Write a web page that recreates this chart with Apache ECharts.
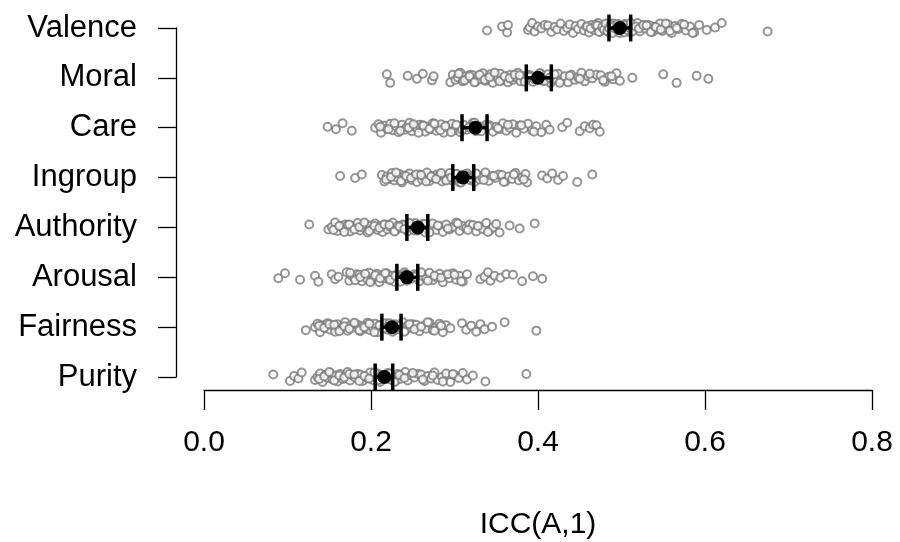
<!DOCTYPE html>
<html>
<head>
<meta charset="utf-8">
<script src="https://cdn.jsdelivr.net/npm/echarts@6/dist/echarts.min.js"></script>
<style>html,body{margin:0;padding:0;background:#fff}#c{width:900px;height:542px}</style>
</head>
<body>
<div id="c"></div>
<script>
// categories from bottom (1) to top (8)
const categories = ['Purity','Fairness','Arousal','Authority','Ingroup','Care','Moral','Valence'];

const valence = [0.339,0.357,0.363,0.364,0.388,0.390,0.393,0.396,0.400,0.404,0.408,0.412,0.416,0.420,0.423,0.427,0.431,0.435,0.438,0.442,0.445,0.448,0.452,0.455,0.458,0.461,0.464,0.467,0.470,0.472,0.474,0.476,0.478,0.480,0.482,0.484,0.486,0.488,0.490,0.492,0.494,0.496,0.498,0.500,0.502,0.504,0.506,0.508,0.510,0.512,0.514,0.516,0.519,0.522,0.525,0.528,0.531,0.534,0.537,0.540,0.543,0.546,0.549,0.552,0.556,0.560,0.564,0.568,0.572,0.577,0.582,0.587,0.593,0.602,0.612,0.620,0.675,
  0.459,0.463,0.469,0.471,0.473,0.477,0.479,0.481,0.483,0.485,0.487,0.489,0.491,0.493,0.495,0.499,0.501,0.503,0.505,0.507,0.509,0.511,0.513,0.517,0.521,0.526,0.530,0.535,0.541,0.547,0.553,0.558,0.566,0.575,0.585];
const moral = [0.219,0.223,0.244,0.255,0.262,0.273,0.275,0.295,0.298,0.301,0.304,0.307,0.310,0.313,0.316,0.319,0.322,0.325,0.328,0.331,0.334,0.337,0.340,0.343,0.346,0.349,0.352,0.355,0.358,0.361,0.364,0.367,0.370,0.373,0.376,0.379,0.382,0.385,0.388,0.391,0.394,0.397,0.400,0.403,0.406,0.409,0.412,0.415,0.418,0.421,0.424,0.428,0.432,0.436,0.440,0.444,0.448,0.452,0.456,0.460,0.465,0.470,0.475,0.480,0.485,0.490,0.494,0.498,0.513,0.550,0.566,0.590,0.604,
  0.305,0.312,0.318,0.324,0.330,0.336,0.342,0.348,0.354,0.360,0.366,0.372,0.378,0.384,0.390,0.396,0.402,0.408,0.414,0.420,0.426,0.438,0.450,0.462,0.478,0.488];
const care = [0.148,0.158,0.166,0.177,0.205,0.209,0.212,0.216,0.219,0.223,0.226,0.230,0.233,0.237,0.240,0.243,0.246,0.249,0.252,0.255,0.258,0.262,0.265,0.268,0.271,0.274,0.278,0.281,0.284,0.287,0.290,0.294,0.297,0.300,0.303,0.307,0.311,0.315,0.319,0.322,0.326,0.330,0.334,0.338,0.342,0.346,0.350,0.354,0.358,0.362,0.366,0.370,0.374,0.378,0.383,0.388,0.393,0.398,0.404,0.410,0.414,0.429,0.435,0.450,0.456,0.462,0.466,0.470,0.474,
  0.211,0.221,0.228,0.235,0.245,0.251,0.257,0.263,0.270,0.276,0.283,0.289,0.296,0.302,0.309,0.317,0.324,0.332,0.340,0.352,0.364,0.380,0.395];
const ingroup = [0.163,0.181,0.189,0.213,0.216,0.219,0.222,0.225,0.228,0.231,0.234,0.237,0.240,0.243,0.246,0.249,0.252,0.255,0.258,0.261,0.264,0.267,0.270,0.273,0.276,0.279,0.282,0.285,0.288,0.291,0.294,0.297,0.300,0.303,0.306,0.309,0.312,0.315,0.318,0.321,0.324,0.327,0.330,0.333,0.337,0.341,0.345,0.349,0.353,0.357,0.361,0.365,0.369,0.373,0.377,0.381,0.385,0.387,0.405,0.411,0.417,0.424,0.430,0.447,0.465,
  0.218,0.224,0.230,0.236,0.242,0.248,0.254,0.260,0.266,0.272,0.278,0.284,0.290,0.296,0.302,0.308,0.314,0.320,0.326,0.335,0.347,0.359,0.371,0.383];
const authority = [0.126,0.149,0.153,0.157,0.160,0.163,0.166,0.169,0.172,0.175,0.178,0.181,0.184,0.187,0.190,0.193,0.196,0.199,0.202,0.205,0.208,0.211,0.214,0.217,0.220,0.223,0.226,0.229,0.232,0.235,0.238,0.241,0.244,0.247,0.250,0.253,0.256,0.259,0.262,0.265,0.268,0.271,0.274,0.278,0.282,0.286,0.290,0.294,0.298,0.302,0.306,0.310,0.314,0.318,0.322,0.326,0.330,0.334,0.338,0.342,0.346,0.350,0.354,0.366,0.378,0.396,
  0.155,0.162,0.168,0.174,0.180,0.186,0.192,0.198,0.204,0.210,0.216,0.222,0.228,0.234,0.240,0.246,0.252,0.258,0.264,0.270,0.280,0.292,0.304,0.316,0.328,0.340];
const arousal = [0.089,0.097,0.115,0.133,0.137,0.153,0.157,0.161,0.171,0.174,0.177,0.180,0.183,0.186,0.189,0.192,0.195,0.198,0.201,0.204,0.207,0.210,0.213,0.216,0.219,0.222,0.225,0.228,0.231,0.234,0.237,0.240,0.243,0.246,0.249,0.252,0.255,0.258,0.262,0.266,0.270,0.274,0.278,0.282,0.286,0.290,0.294,0.298,0.302,0.306,0.310,0.315,0.331,0.336,0.340,0.343,0.348,0.355,0.362,0.370,0.381,0.394,0.405,
  0.175,0.181,0.187,0.193,0.199,0.205,0.211,0.217,0.223,0.229,0.235,0.241,0.247,0.253,0.260,0.268,0.276,0.284,0.292,0.300,0.308];
const fairness = [0.122,0.133,0.136,0.139,0.142,0.145,0.148,0.151,0.154,0.157,0.160,0.163,0.166,0.169,0.172,0.175,0.178,0.181,0.184,0.187,0.190,0.193,0.196,0.199,0.202,0.205,0.208,0.211,0.214,0.217,0.220,0.223,0.226,0.229,0.232,0.235,0.238,0.241,0.244,0.247,0.250,0.254,0.258,0.262,0.266,0.270,0.274,0.278,0.282,0.286,0.290,0.295,0.309,0.314,0.320,0.326,0.331,0.336,0.345,0.360,0.398,
  0.138,0.144,0.150,0.156,0.162,0.168,0.174,0.180,0.186,0.192,0.198,0.204,0.210,0.216,0.222,0.228,0.234,0.240,0.246,0.252,0.260,0.268,0.276,0.284];
const purity = [0.083,0.103,0.108,0.113,0.117,0.133,0.136,0.139,0.142,0.145,0.148,0.151,0.154,0.157,0.160,0.163,0.166,0.169,0.172,0.175,0.178,0.181,0.184,0.187,0.190,0.193,0.196,0.199,0.202,0.205,0.208,0.211,0.214,0.217,0.220,0.223,0.226,0.229,0.232,0.235,0.238,0.241,0.244,0.248,0.252,0.256,0.260,0.264,0.268,0.272,0.276,0.280,0.285,0.290,0.295,0.300,0.305,0.310,0.315,0.322,0.337,0.386,
  0.138,0.144,0.150,0.156,0.162,0.168,0.174,0.180,0.186,0.192,0.198,0.204,0.210,0.216,0.222,0.228,0.234,0.240,0.250,0.262,0.274,0.286,0.298];

// order matches categories (bottom to top)
const means = [0.216,0.225,0.243,0.256,0.310,0.325,0.400,0.498];
const ciLow = [0.205,0.213,0.231,0.243,0.298,0.309,0.386,0.485];
const ciHigh = [0.226,0.236,0.256,0.268,0.323,0.339,0.416,0.511];

// vertical jitter pattern (category units)
const jitter = [0.05,-0.08,0.02,-0.03,0.09,-0.06,0.0,0.07,-0.10,0.04,-0.02,0.08,-0.05,0.03,-0.09,0.06,-0.04,0.01,0.10,-0.07,0.03,-0.01,0.06];

const xTicks = [0.0,0.2,0.4,0.6,0.8];

const rows = [purity,fairness,arousal,authority,ingroup,care,moral,valence];
const pts = [];
rows.forEach((arr,ci)=>{
  arr.forEach((v,k)=>{ pts.push([v, ci+1+jitter[(k+ci*5)%jitter.length]]); });
});
const meanPts = means.map((m,i)=>[m,i+1]);
const ciData = means.map((m,i)=>[ciLow[i],ciHigh[i],i+1]);

const FONT = 'Liberation Sans';
const chart = echarts.init(document.getElementById('c'), null, {renderer:'canvas'});
chart.setOption({
  animation:false,
  backgroundColor:'#fff',
  textStyle:{fontFamily:FONT},
  grid:{left:204,right:28,top:28,bottom:165,containLabel:false,outerBoundsMode:'none'},
  xAxis:{
    type:'value',min:0,max:0.8,interval:0.2,position:'bottom',offset:13,
    axisLine:{show:true,onZero:false,lineStyle:{color:'#000',width:1.3}},
    axisTick:{show:true,length:20,inside:false,lineStyle:{color:'#000',width:1.3}},
    axisLabel:{fontSize:30,color:'#000',fontFamily:FONT,margin:38,formatter:v=>v.toFixed(1),showMinLabel:true,showMaxLabel:true},
    splitLine:{show:false},
    name:'ICC(A,1)',nameLocation:'middle',nameGap:120,
    nameTextStyle:{fontSize:30,color:'#000',fontFamily:FONT}
  },
  yAxis:{
    type:'value',min:1,max:8,interval:1,position:'left',offset:28,
    axisLine:{show:true,onZero:false,lineStyle:{color:'#000',width:1.3}},
    axisTick:{show:true,length:18,inside:false,lineStyle:{color:'#000',width:1.3}},
    axisLabel:{fontSize:31,color:'#000',fontFamily:FONT,margin:39,formatter:v=>categories[Math.round(v)-1]||''},
    splitLine:{show:false}
  },
  series:[
    {type:'scatter',data:pts,symbol:'emptyCircle',symbolSize:8,clip:false,
     itemStyle:{color:'#7a7a7a',borderColor:'#7a7a7a',borderWidth:2},z:2,silent:true},
    {type:'custom',data:ciData,clip:false,z:3,
     encode:{x:[0,1],y:2},
     renderItem:function(params,api){
       const a=api.coord([api.value(0),api.value(2)]);
       const b=api.coord([api.value(1),api.value(2)]);
       const h=13.5;
       const st={stroke:'#000',lineWidth:3.5};
       return {type:'group',children:[
         {type:'line',shape:{x1:a[0],y1:a[1],x2:b[0],y2:b[1]},style:st},
         {type:'line',shape:{x1:a[0],y1:a[1]-h,x2:a[0],y2:a[1]+h},style:st},
         {type:'line',shape:{x1:b[0],y1:b[1]-h,x2:b[0],y2:b[1]+h},style:st}
       ]};
     }},
    {type:'scatter',data:meanPts,symbol:'circle',symbolSize:14,clip:false,
     itemStyle:{color:'#000',opacity:1},z:4}
  ]
});
</script>
</body>
</html>
